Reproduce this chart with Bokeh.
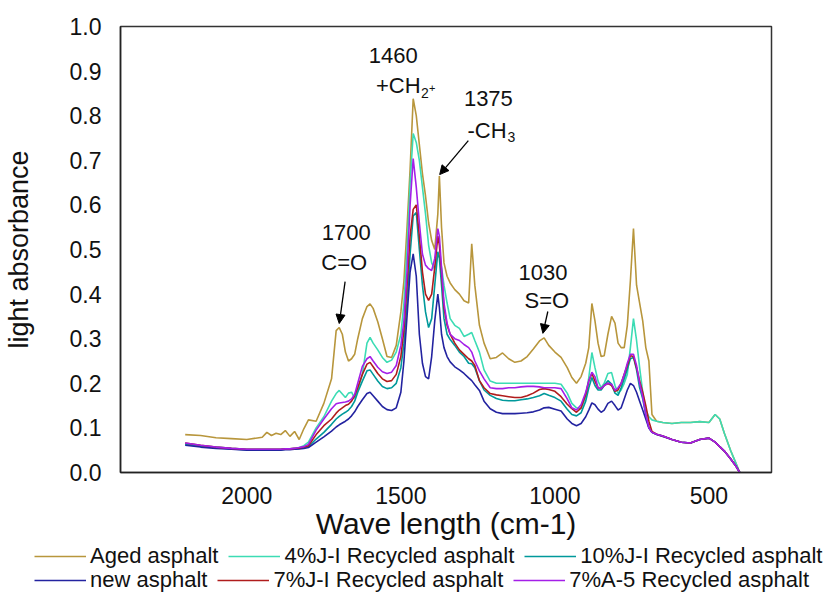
from bokeh.plotting import figure
from bokeh.models import (Range1d, Legend, LegendItem, Label, Arrow, NormalHead,
                          FixedTicker, NumeralTickFormatter, ColumnDataSource)
from bokeh.embed import file_html
from bokeh.resources import INLINE

# ---------------- data ----------------
wavenumber = [
    2200, 2150, 2100, 2050, 2000, 1950, 1935, 1920, 1905, 1890, 1875, 1860, 1845, 1830, 1815, 1800,
    1775, 1750, 1725, 1710, 1700, 1690, 1680, 1670, 1660, 1650, 1640, 1625, 1610, 1600, 1590, 1575, 1560, 1545, 1530, 1515, 1500,
    1490, 1480, 1470, 1460, 1450, 1440, 1430, 1420, 1410, 1400, 1390, 1380, 1375, 1368, 1360, 1350, 1340, 1325, 1310, 1295, 1280, 1270, 1260, 1245, 1230, 1210,
    1190, 1170, 1150, 1130, 1110, 1090, 1070, 1050, 1035, 1020, 1000, 980, 960, 945, 930, 915, 900,
    890, 880, 870, 860, 850, 840, 828, 816, 805, 795, 785, 775, 765, 755, 745, 735, 725, 715, 705, 695, 685, 670,
    650, 620, 590, 560, 530, 500, 480, 465, 450, 430, 415, 400,
]

aged_asphalt = [
    0.085, 0.083, 0.078, 0.076, 0.074, 0.079, 0.090, 0.083, 0.088, 0.085, 0.094, 0.081, 0.092, 0.074, 0.098, 0.118,
    0.115, 0.155, 0.210, 0.318, 0.325, 0.310, 0.270, 0.250, 0.255, 0.265, 0.300, 0.345, 0.372, 0.378, 0.368, 0.338, 0.300, 0.260, 0.258, 0.285, 0.360,
    0.430, 0.550, 0.680, 0.838, 0.800, 0.735, 0.670, 0.620, 0.560, 0.520, 0.500, 0.580, 0.665, 0.550, 0.470, 0.440, 0.425, 0.410, 0.400, 0.385, 0.380, 0.513, 0.420, 0.330, 0.290, 0.255,
    0.258, 0.268, 0.255, 0.247, 0.250, 0.260, 0.277, 0.295, 0.302, 0.285, 0.270, 0.258, 0.235, 0.213, 0.200, 0.215, 0.245,
    0.280, 0.379, 0.340, 0.290, 0.260, 0.262, 0.310, 0.350, 0.335, 0.290, 0.280, 0.280, 0.330, 0.430, 0.547, 0.420, 0.380, 0.340, 0.280, 0.250, 0.130, 0.115,
    0.112, 0.110, 0.112, 0.112, 0.114, 0.112, 0.130, 0.120, 0.088, 0.050, 0.025, 0.000,
]

ji4_recycled = [
    0.064, 0.060, 0.057, 0.054, 0.052, 0.052, 0.052, 0.052, 0.052, 0.052, 0.053, 0.053, 0.054, 0.056, 0.060, 0.068,
    0.100, 0.125, 0.160, 0.177, 0.184, 0.176, 0.168, 0.178, 0.180, 0.166, 0.185, 0.220, 0.290, 0.303, 0.290, 0.275, 0.258, 0.247, 0.252, 0.270, 0.310,
    0.380, 0.500, 0.650, 0.760, 0.740, 0.700, 0.640, 0.580, 0.510, 0.470, 0.455, 0.490, 0.485, 0.460, 0.420, 0.380, 0.345, 0.330, 0.323, 0.305, 0.310, 0.314, 0.296, 0.270, 0.230, 0.205,
    0.200, 0.200, 0.200, 0.200, 0.200, 0.200, 0.200, 0.200, 0.200, 0.200, 0.200, 0.198, 0.178, 0.155, 0.145, 0.143, 0.170,
    0.213, 0.269, 0.235, 0.205, 0.190, 0.200, 0.222, 0.224, 0.195, 0.177, 0.185, 0.200, 0.220, 0.280, 0.345, 0.296, 0.235, 0.180, 0.140, 0.125, 0.118, 0.115,
    0.112, 0.110, 0.112, 0.112, 0.114, 0.112, 0.130, 0.120, 0.088, 0.050, 0.025, 0.000,
]

ji10_recycled = [
    0.063, 0.059, 0.056, 0.053, 0.051, 0.051, 0.051, 0.051, 0.051, 0.051, 0.052, 0.052, 0.053, 0.054, 0.056, 0.058,
    0.075, 0.090, 0.108, 0.120, 0.126, 0.131, 0.135, 0.140, 0.148, 0.160, 0.180, 0.205, 0.228, 0.230, 0.220, 0.205, 0.193, 0.188, 0.190, 0.200, 0.235,
    0.290, 0.380, 0.490, 0.575, 0.583, 0.500, 0.420, 0.360, 0.325, 0.345, 0.420, 0.495, 0.480, 0.420, 0.345, 0.310, 0.298, 0.285, 0.270, 0.260, 0.245, 0.244, 0.235, 0.206, 0.185, 0.173,
    0.166, 0.162, 0.161, 0.161, 0.163, 0.165, 0.168, 0.172, 0.177, 0.173, 0.168, 0.160, 0.142, 0.130, 0.127, 0.134, 0.160,
    0.190, 0.213, 0.195, 0.185, 0.185, 0.195, 0.206, 0.198, 0.178, 0.173, 0.190, 0.210, 0.232, 0.255, 0.258, 0.230, 0.190, 0.165, 0.130, 0.100, 0.090, 0.086,
    0.082, 0.074, 0.068, 0.066, 0.074, 0.077, 0.068, 0.058, 0.048, 0.031, 0.017, 0.000,
]

new_asphalt = [
    0.061, 0.057, 0.054, 0.052, 0.050, 0.050, 0.050, 0.050, 0.050, 0.050, 0.051, 0.051, 0.052, 0.053, 0.054, 0.056,
    0.068, 0.080, 0.093, 0.102, 0.107, 0.111, 0.115, 0.120, 0.127, 0.136, 0.148, 0.163, 0.177, 0.180, 0.172, 0.160, 0.148, 0.141, 0.139, 0.145, 0.180,
    0.250, 0.350, 0.450, 0.490, 0.440, 0.310, 0.245, 0.215, 0.210, 0.260, 0.340, 0.400, 0.370, 0.310, 0.280, 0.260, 0.248, 0.237, 0.230, 0.222, 0.212, 0.206, 0.197, 0.184, 0.160, 0.143,
    0.135, 0.132, 0.132, 0.132, 0.133, 0.134, 0.136, 0.140, 0.145, 0.146, 0.142, 0.138, 0.120, 0.110, 0.105, 0.110, 0.125,
    0.140, 0.156, 0.152, 0.142, 0.135, 0.140, 0.155, 0.160, 0.150, 0.140, 0.145, 0.165, 0.185, 0.200, 0.195, 0.180, 0.160, 0.140, 0.120, 0.100, 0.090, 0.085,
    0.081, 0.074, 0.068, 0.066, 0.074, 0.077, 0.068, 0.058, 0.048, 0.031, 0.017, 0.000,
]

ji7_recycled = [
    0.066, 0.061, 0.057, 0.054, 0.052, 0.052, 0.052, 0.052, 0.052, 0.052, 0.053, 0.053, 0.054, 0.055, 0.057, 0.060,
    0.085, 0.105, 0.120, 0.133, 0.140, 0.145, 0.150, 0.153, 0.160, 0.172, 0.190, 0.220, 0.243, 0.247, 0.237, 0.222, 0.210, 0.204, 0.206, 0.220, 0.260,
    0.320, 0.420, 0.530, 0.590, 0.600, 0.530, 0.450, 0.400, 0.386, 0.400, 0.460, 0.530, 0.510, 0.450, 0.370, 0.330, 0.310, 0.290, 0.275, 0.265, 0.255, 0.250, 0.240, 0.206, 0.190, 0.177,
    0.174, 0.172, 0.170, 0.168, 0.168, 0.172, 0.178, 0.186, 0.188, 0.186, 0.182, 0.170, 0.153, 0.143, 0.135, 0.145, 0.175,
    0.205, 0.222, 0.205, 0.190, 0.188, 0.195, 0.200, 0.195, 0.182, 0.185, 0.200, 0.220, 0.240, 0.262, 0.260, 0.235, 0.205, 0.180, 0.150, 0.115, 0.092, 0.086,
    0.082, 0.074, 0.068, 0.066, 0.074, 0.077, 0.068, 0.058, 0.048, 0.031, 0.017, 0.000,
]

a5_recycled = [
    0.066, 0.061, 0.057, 0.054, 0.052, 0.052, 0.052, 0.052, 0.052, 0.052, 0.053, 0.053, 0.054, 0.056, 0.058, 0.063,
    0.095, 0.120, 0.143, 0.154, 0.156, 0.157, 0.158, 0.160, 0.165, 0.175, 0.200, 0.238, 0.255, 0.260, 0.250, 0.236, 0.226, 0.222, 0.225, 0.240, 0.285,
    0.340, 0.450, 0.600, 0.704, 0.640, 0.560, 0.490, 0.465, 0.457, 0.453, 0.480, 0.547, 0.530, 0.460, 0.380, 0.335, 0.310, 0.300, 0.296, 0.287, 0.280, 0.270, 0.250, 0.228, 0.210, 0.190,
    0.188, 0.188, 0.190, 0.190, 0.192, 0.193, 0.193, 0.192, 0.190, 0.190, 0.190, 0.188, 0.165, 0.145, 0.140, 0.152, 0.180,
    0.205, 0.225, 0.215, 0.190, 0.188, 0.195, 0.200, 0.198, 0.184, 0.190, 0.200, 0.220, 0.245, 0.265, 0.265, 0.240, 0.200, 0.170, 0.130, 0.100, 0.090, 0.086,
    0.082, 0.074, 0.068, 0.066, 0.074, 0.077, 0.068, 0.058, 0.048, 0.031, 0.017, 0.000,
]

series_names = ["Aged asphalt", "4%J-I Recycled asphalt", "10%J-I Recycled asphalt",
                "new asphalt", "7%J-I Recycled asphalt", "7%A-5 Recycled asphalt"]
series_values = [aged_asphalt, ji4_recycled, ji10_recycled, new_asphalt, ji7_recycled, a5_recycled]
series_colors = ["#B8963C", "#3CDCB4", "#00999B", "#2323A0", "#B01C1C", "#A41FE8"]

x_ticks = [2000, 1500, 1000, 500]
y_ticks = [0.0, 0.1, 0.2, 0.3, 0.4, 0.5, 0.6, 0.7, 0.8, 0.9, 1.0]

for vals in series_values:
    assert len(vals) == len(wavenumber), len(vals)

FONT = "Liberation Sans"
LINE_W = 1.6

# ---------------- main figure ----------------
p = figure(width=826, height=544, output_backend="svg", toolbar_location=None,
           x_range=Range1d(2410, 297), y_range=Range1d(0, 1.0))
p.min_border_left = 116
p.min_border_right = 55
p.min_border_top = 26
p.min_border_bottom = 72
p.xgrid.visible = False
p.ygrid.visible = False
p.outline_line_color = "#333333"
p.outline_line_width = 1.5
p.background_fill_color = "white"
p.border_fill_color = "white"

for name, vals, col in zip(series_names, series_values, series_colors):
    src = ColumnDataSource(dict(x=wavenumber, y=vals))
    p.line("x", "y", source=src, line_color=col, line_width=LINE_W)

for ax in (p.xaxis[0], p.yaxis[0]):
    ax.axis_line_color = "#222222"
    ax.axis_line_width = 1.5
    ax.major_tick_line_color = None
    ax.minor_tick_line_color = None
    ax.major_label_text_font = FONT
    ax.major_label_text_font_size = "23px"
    ax.major_label_text_color = "#111111"
    ax.axis_label_text_font = FONT
    ax.axis_label_text_font_style = "normal"
    ax.axis_label_text_color = "#111111"

p.xaxis.ticker = FixedTicker(ticks=x_ticks)
p.yaxis.ticker = FixedTicker(ticks=y_ticks)
p.yaxis.formatter = NumeralTickFormatter(format="0.0")
p.xaxis.axis_label = "Wave length (cm-1)"
p.yaxis.axis_label = "light absorbance"
p.xaxis.axis_label_text_font_size = "30px"
p.yaxis.axis_label_text_font_size = "27px"
p.xaxis.major_label_standoff = 8
p.xaxis.axis_label_standoff = 0
p.yaxis.major_label_standoff = 13
p.yaxis.axis_label_standoff = 33

# ---------------- peak annotations ----------------
ann_font = "22px"
number_labels = [("1700", 1677, 0.538), ("1460", 1525, 0.936), ("1375", 1216, 0.838), ("1030", 1039, 0.448)]
group_labels = [("C=O", 1684, 0.471), ("S=O", 1026, 0.386)]
for txt, x, y in number_labels + group_labels:
    p.add_layout(Label(x=x, y=y, text=txt, text_align="center", text_baseline="middle",
                       text_font=FONT, text_font_size=ann_font, text_color="#111111"))

p.add_layout(Label(x=1581, y=0.867, text="+CH", text_align="left", text_baseline="middle",
                   text_font=FONT, text_font_size=ann_font, text_color="#111111"))
p.add_layout(Label(x=1581, y=0.867, x_offset=45, y_offset=-7, text="2", text_align="left",
                   text_baseline="middle", text_font=FONT, text_font_size="14px", text_color="#111111"))
p.add_layout(Label(x=1581, y=0.867, x_offset=53, y_offset=-2, text="+", text_align="left",
                   text_baseline="middle", text_font=FONT, text_font_size="11px", text_color="#111111"))
p.add_layout(Label(x=1284, y=0.767, text="-CH", text_align="left", text_baseline="middle",
                   text_font=FONT, text_font_size=ann_font, text_color="#111111"))
p.add_layout(Label(x=1284, y=0.767, x_offset=40, y_offset=-7, text="3", text_align="left",
                   text_baseline="middle", text_font=FONT, text_font_size="14px", text_color="#111111"))

arrows = [((1681, 0.428), (1700, 0.334)),
          ((1281, 0.744), (1374, 0.668)),
          ((1023, 0.361), (1039, 0.312))]
for (xs, ys), (xe, ye) in arrows:
    p.add_layout(Arrow(end=NormalHead(size=9, fill_color="black", line_color="black"),
                       x_start=xs, y_start=ys, x_end=xe, y_end=ye,
                       line_color="black", line_width=1.3))

# ---------------- legend strip (separate full-width root, two free rows) ----------------
lf = figure(width=826, height=50, output_backend="svg", toolbar_location=None,
            x_axis_type=None, y_axis_type=None, min_border=0,
            x_range=Range1d(0, 1), y_range=Range1d(0, 1))
lf.min_border_left = 0
lf.min_border_right = 0
lf.min_border_top = 0
lf.min_border_bottom = 0
lf.outline_line_color = None
lf.xgrid.visible = False
lf.ygrid.visible = False
lf.background_fill_color = "white"
lf.border_fill_color = "white"

legend_renderers = []
for col in series_colors:
    hidden = ColumnDataSource(dict(x=[float("nan")], y=[float("nan")]))
    legend_renderers.append(lf.line("x", "y", source=hidden, line_color=col, line_width=LINE_W))

def make_row(idx, loc):
    return Legend(items=[LegendItem(label=series_names[i], renderers=[legend_renderers[i]]) for i in idx],
                  orientation="horizontal", location=loc,
                  padding=0, margin=0, spacing=10, border_line_color=None,
                  background_fill_alpha=0, glyph_width=52, glyph_height=20,
                  label_standoff=4, label_height=20,
                  label_text_font=FONT, label_text_font_size="22px",
                  label_text_color="#111111")

lf.add_layout(make_row([0, 1, 2], (34, 25)))
lf.add_layout(make_row([3, 4, 5], (34, 1)))

open("out.html", "w").write(file_html([p, lf], INLINE))
